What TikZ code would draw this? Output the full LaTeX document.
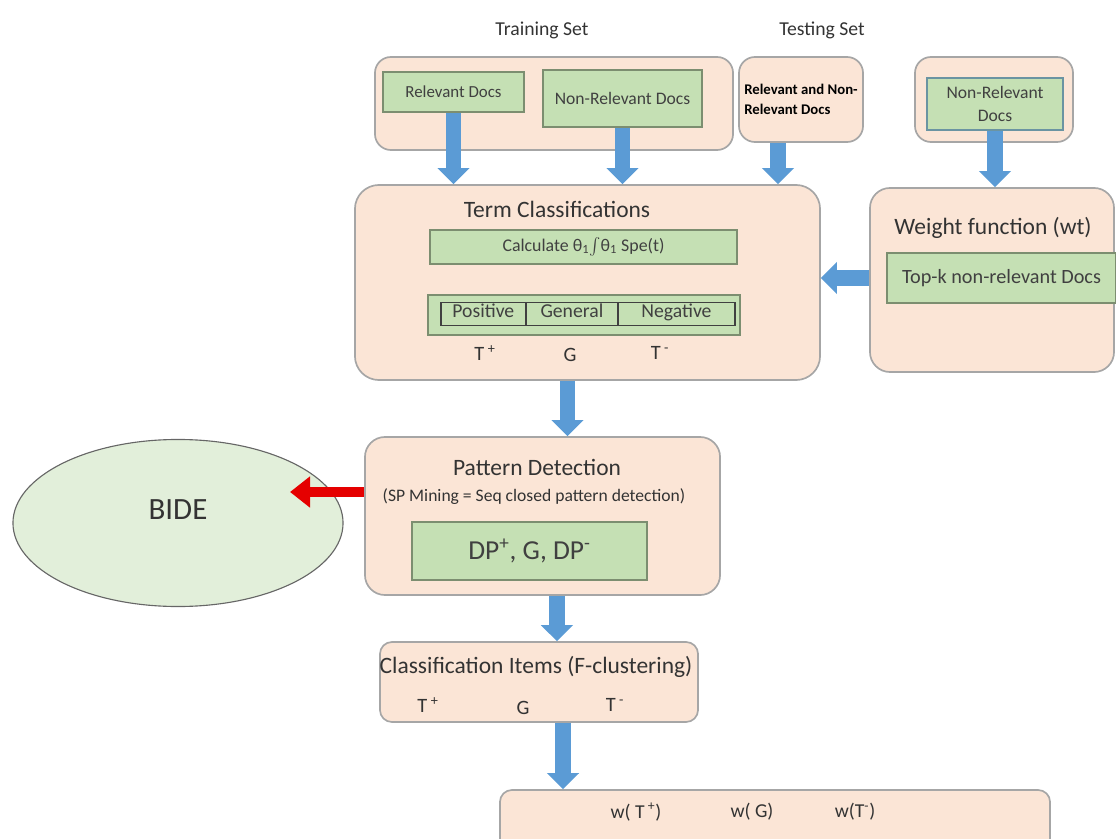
\documentclass[tikz,border=0pt]{standalone}
\usepackage{fontspec}
\setmainfont{Carlito}
\usepackage{amsmath}
\usetikzlibrary{arrows.meta, positioning, shapes.geometric, calc}
\definecolor{peach}{HTML}{FBE5D6}
\definecolor{peachline}{HTML}{A6A6A6}
\definecolor{leaf}{HTML}{C5E0B4}
\definecolor{leafline}{HTML}{7C8E70}
\definecolor{mint}{HTML}{E2EFDA}
\definecolor{flowblue}{HTML}{5B9BD5}

\begin{document}
\begin{tikzpicture}[x=0.025cm, y=-0.025cm,
    group/.style={draw=peachline, fill=peach, rounded corners=0.4cm, line width=1.2pt},
    leafbox/.style={draw=leafline, fill=leaf, line width=1pt, align=center, text=black!75},
    cell/.style={draw=black!75, line width=1.2pt, minimum height=0.575cm, inner sep=2pt, text height=1.45ex, text depth=0.45ex, text=black!75, font=\fontsize{14}{16}\selectfont},
    lbl/.style={text=black!80},
    head/.style={lbl, inner sep=1pt, font=\fontsize{16.7}{19}\selectfont},
    barr/.style={flowblue, line width=0.38cm, -{Triangle[width=0.78cm, length=0.4cm]}},
    rarr/.style={red!90!black, line width=0.25cm, -{Triangle[width=0.75cm, length=0.5cm]}},
]
    \useasboundingbox (0,0) rectangle (1116,839);

    \node[lbl, font=\fontsize{14}{16}\selectfont] (trainlbl) at (542,30) {Training Set};
    \node[lbl, font=\fontsize{14}{16}\selectfont] (testlbl) at (822,30) {Testing Set};

    % input sets
    \node[group, minimum width=8.95cm, minimum height=2.325cm] (train) at (554,103.5) {};
    \node[leafbox, minimum width=3.525cm, minimum height=1cm, font=\fontsize{12}{14}\selectfont] (reldocs) at (453.5,92) {Relevant Docs};
    \node[leafbox, minimum width=3.975cm, minimum height=1.425cm, font=\fontsize{12.5}{14}\selectfont] (nonreldocs) at (622.5,98.5) {Non-Relevant Docs};
    \node[group, minimum width=3.1cm, minimum height=2.125cm, align=left, font=\bfseries\fontsize{10.5}{14}\selectfont] (testing) at (801,99.5) {Relevant and Non-\\Relevant Docs};
    \node[group, minimum width=3.95cm, minimum height=2.125cm] (negset) at (994,99.5) {};
    \node[leafbox, draw=flowblue!50!leafline, minimum width=3.4cm, minimum height=1.3cm, font=\fontsize{12.5}{17}\selectfont] (negdocs) at (995,104) {Non-Relevant\\Docs};

    % term classification
    \node[group, rounded corners=0.6cm, minimum width=11.625cm, minimum height=4.875cm] (term) at (587.5,282.5) {};
    \node[head] (termtitle) at (557,209) {Term Classifications};
    \node[leafbox, minimum width=7.675cm, minimum height=0.85cm, font=\fontsize{12.7}{14}\selectfont] (calc) at (583.5,247) {Calculate θ\textsubscript{1}$\int$θ\textsubscript{1} Spe(t)};
    \node[leafbox, minimum width=7.8cm, minimum height=1cm] (classes) at (584,315) {};
    \node[cell, minimum width=2.125cm, anchor=west] (pos) at (440,314) {Positive};
    \node[cell, minimum width=2.3cm, right=-1.2pt of pos] (gen) {General};
    \node[cell, minimum width=2.925cm, right=-1.2pt of gen] (neg) {Negative};
    \node[lbl, font=\fontsize{14.5}{16}\selectfont] (tpos) at (485,353) {T\,\textsuperscript{+}};
    \node[lbl, font=\fontsize{14.5}{16}\selectfont] (tgen) at (570,355) {G};
    \node[lbl, font=\fontsize{14.5}{16}\selectfont] (tneg) at (660,353) {T\,\textsuperscript{-}};

    % weight function
    \node[group, rounded corners=0.5cm, minimum width=6.1cm, minimum height=4.6cm] (weight) at (992,280) {};
    \node[head] (wtitle) at (993,228) {Weight function (wt)};
    \node[leafbox, minimum width=5.725cm, minimum height=1.25cm, font=\fontsize{14.4}{16}\selectfont] (topk) at (1001.5,278) {Top-k non-relevant Docs};

    % pattern detection
    \node[group, rounded corners=0.5cm, minimum width=8.875cm, minimum height=3.95cm] (pattern) at (542.5,516) {};
    \node[head] (pattitle) at (537,467) {Pattern Detection};
    \node[lbl, font=\fontsize{12.5}{14}\selectfont] (patsub) at (534,497) {(SP Mining = Seq closed pattern detection)};
    \node[leafbox, minimum width=5.875cm, minimum height=1.45cm, font=\fontsize{19.5}{22}\selectfont] (dp) at (529.5,551) {DP\textsuperscript{+}, G, DP\textsuperscript{-}};

    \node[ellipse, draw=black!60, fill=mint, line width=0.8pt, minimum width=8.25cm, minimum height=4.175cm] (bide) at (178,523) {};
    \node[lbl, font=\fontsize{22}{24}\selectfont] (bidelbl) at (178,510) {BIDE};
    \coordinate (redtip) at (290,492);

    % classification items
    \node[group, rounded corners=0.3cm, minimum width=7.95cm, minimum height=2cm] (classitems) at (539,682) {};
    \node[head] (classtitle) at (536,667) {Classification Items (F-clustering)};
    \node[lbl, font=\fontsize{14.5}{16}\selectfont] (cpos) at (428,705) {T\,\textsuperscript{+}};
    \node[lbl, font=\fontsize{14.5}{16}\selectfont] (cgen) at (523,708) {G};
    \node[lbl, font=\fontsize{14.5}{16}\selectfont] (cneg) at (615,705) {T\,\textsuperscript{-}};

    % weights
    \node[group, rounded corners=0.3cm, minimum width=13.75cm, minimum height=2cm] (weights) at (775,830) {};
    \node[lbl, font=\fontsize{14}{16}\selectfont] (wpos) at (636,812) {w( T\,\textsuperscript{+})};
    \node[lbl, font=\fontsize{14}{16}\selectfont] (wgen) at (752,812) {w( G)};
    \node[lbl, font=\fontsize{14}{16}\selectfont] (wneg) at (855,812) {w(T\textsuperscript{-})};

    \draw[barr] (reldocs.south) -- (reldocs.south |- term.north);
    \draw[barr] (nonreldocs.south) -- (nonreldocs.south |- term.north);
    \draw[barr] ([xshift=-0.575cm]testing.south) -- ([xshift=-0.575cm]testing.south |- term.north);
    \draw[barr] (negdocs.south) -- (negdocs.south |- weight.north);
    \draw[barr] (weight.west |- topk) -- (term.east |- topk);
    \draw[barr] ([xshift=-0.5cm]term.south) -- ([xshift=-0.5cm]term.south |- pattern.north);
    \draw[barr] ([xshift=0.36cm]pattern.south) -- ([xshift=0.36cm]pattern.south |- classitems.north);
    \draw[barr] ([xshift=0.6cm]classitems.south) -- ([xshift=0.6cm]classitems.south |- weights.north);
    \draw[rarr] (pattern.west |- redtip) -- (redtip);
\end{tikzpicture}
\end{document}
